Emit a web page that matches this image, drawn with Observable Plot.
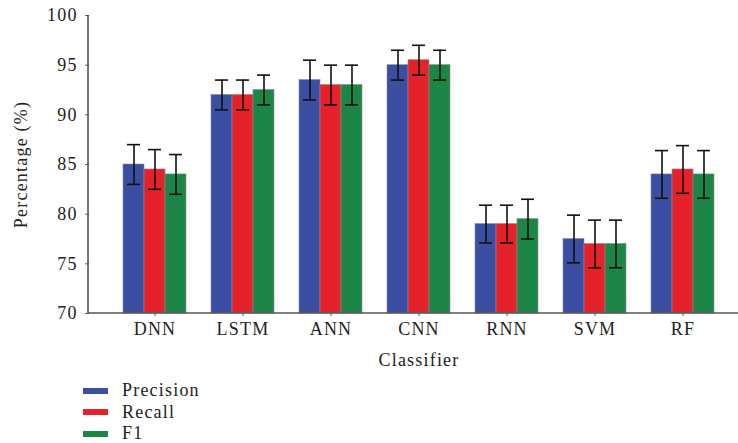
<!DOCTYPE html>
<html>
<head>
<meta charset="utf-8">
<script src="https://cdn.jsdelivr.net/npm/d3@7"></script>
<script src="https://cdn.jsdelivr.net/npm/@observablehq/plot@0.6"></script>
<style>
  html, body { margin: 0; padding: 0; background: #fff; }
  #chart { width: 738px; }
  #chart svg text { letter-spacing: 1.2px; }
  .legend { font-family: "Liberation Serif", serif; font-size: 18px; color: #222; margin-left: 83px; margin-top: 2px; letter-spacing: 1.2px; }
  .legend div { height: 21.5px; line-height: 21.5px; display: flex; align-items: center; }
  .legend span.sw { display: inline-block; width: 25px; height: 6px; margin-right: 14px; }
</style>
</head>
<body>
<div id="chart"></div>
<script>
const classifiers = ["DNN", "LSTM", "ANN", "CNN", "RNN", "SVM", "RF"];
const metrics = ["Precision", "Recall", "F1"];
const precision = [85, 92, 93.5, 95, 79, 77.5, 84];
const recall = [84.5, 92, 93, 95.5, 79, 77, 84.5];
const f1 = [84, 92.5, 93, 95, 79.5, 77, 84];
const precisionErr = [2, 1.5, 2, 1.5, 1.9, 2.4, 2.4];
const recallErr = [2, 1.5, 2, 1.5, 1.9, 2.4, 2.4];
const f1Err = [2, 1.5, 2, 1.5, 2, 2.4, 2.4];
const yTicks = [70, 75, 80, 85, 90, 95, 100];
const colors = ["#3a4fa2", "#e5222a", "#1b8646"];

const series = [precision, recall, f1];
const errs = [precisionErr, recallErr, f1Err];
const data = [];
classifiers.forEach((c, i) => {
  metrics.forEach((m, j) => {
    data.push({classifier: c, metric: m, value: series[j][i], err: errs[j][i]});
  });
});

const W = 738, H = 378, ML = 88, MR = 0, MT = 15, MB = 65;
const fxOpts = {paddingInner: 0.26, paddingOuter: 0.31, align: 0.6};
// offset of the first facet from the plot's left margin (same band computation as Plot)
const firstOffset = d3.scaleBand(classifiers, [ML, W - MR])
  .paddingInner(fxOpts.paddingInner).paddingOuter(fxOpts.paddingOuter).align(fxOpts.align)(classifiers[0]) - ML;

const chart = Plot.plot({
  width: W,
  height: H,
  marginLeft: ML,
  marginRight: MR,
  marginTop: MT,
  marginBottom: MB,
  style: {fontFamily: "Liberation Serif, serif", fontSize: "18px", color: "#222", background: "#fff"},
  fx: {domain: classifiers, ...fxOpts, label: null, axis: null},
  x: {domain: metrics, padding: 0, axis: null},
  y: {domain: [70, 100], axis: null},
  color: {domain: metrics, range: colors},
  marks: [
    Plot.barY(data, {fx: "classifier", x: "metric", y1: 70, y2: "value", fill: "metric", stroke: "#8c8c8c", strokeWidth: 0.6}),
    Plot.ruleX(data, {fx: "classifier", x: "metric", y1: d => d.value - d.err, y2: d => d.value + d.err, stroke: "#111", strokeWidth: 1.6}),
    Plot.tickY(data, {fx: "classifier", x: "metric", y: d => d.value + d.err, stroke: "#111", strokeWidth: 1.6, insetLeft: 4, insetRight: 4}),
    Plot.tickY(data, {fx: "classifier", x: "metric", y: d => d.value - d.err, stroke: "#111", strokeWidth: 1.6, insetLeft: 4, insetRight: 4}),
    Plot.axisY({ticks: yTicks, tickSize: 4, tickPadding: 8, dx: -firstOffset, label: "Percentage (%)", labelAnchor: "center", labelArrow: "none", labelOffset: firstOffset + 75, stroke: "#555", fill: "#222"}),
    Plot.axisFx({anchor: "bottom", tickSize: 3, tickPadding: 6, label: "Classifier", labelAnchor: "center", labelOffset: 52, stroke: "#555", fill: "#222"})
  ]
});
document.getElementById("chart").appendChild(chart);

// axis lines along the library's scale ranges
const fxRange = [ML, W - MR];
const yRange = chart.scale("y").range;
const svg = d3.select(chart);
svg.append("line")
  .attr("x1", fxRange[0]).attr("x2", fxRange[0])
  .attr("y1", yRange[0]).attr("y2", yRange[1])
  .attr("stroke", "#555").attr("stroke-width", 1.6);
svg.append("line")
  .attr("x1", fxRange[0]).attr("x2", fxRange[1])
  .attr("y1", yRange[0]).attr("y2", yRange[0])
  .attr("stroke", "#555").attr("stroke-width", 1.6);

const legend = document.createElement("div");
legend.className = "legend";
metrics.forEach((m, j) => {
  const row = document.createElement("div");
  const sw = document.createElement("span");
  sw.className = "sw";
  sw.style.background = colors[j];
  row.appendChild(sw);
  row.appendChild(document.createTextNode(m));
  legend.appendChild(row);
});
document.getElementById("chart").appendChild(legend);
</script>
</body>
</html>
